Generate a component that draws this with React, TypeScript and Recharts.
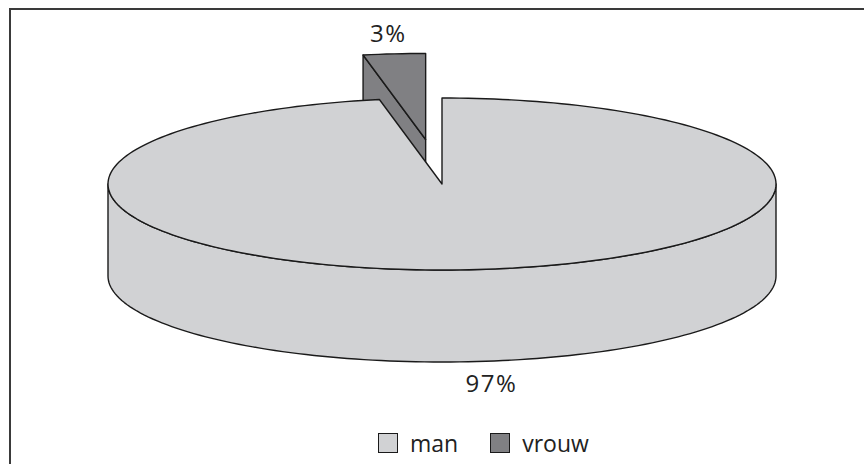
import { PieChart, Pie, Cell, Legend } from 'recharts';

const LABELS = ['man', 'vrouw'];
const SHARES = [97, 3];
const COLORS = ['#d1d2d4', '#808083'];
// slices pulled out of the pie, as a fraction of the radius
const EXPLODE: Record<string, number> = { vrouw: 0.52 };

const RX = 334;
const RY = 86;
const DEPTH = 92;
const STROKE = '#1a1a1a';
const FONT = '"Open Sans", "Noto Sans", sans-serif';

// painted back to front: the small slice goes first so the big one covers it
const pieData = LABELS.map((name, i) => ({ name, value: SHARES[i], color: COLORS[i] })).reverse();

const rad = (a: number) => (a * Math.PI) / 180;

function pt(cx: number, cy: number, a: number, dy = 0): [number, number] {
  return [cx + RX * Math.cos(rad(a)), cy - RY * Math.sin(rad(a)) + dy];
}

function arc(cx: number, cy: number, a0: number, a1: number, dy = 0) {
  const n = Math.max(2, Math.ceil(Math.abs(a1 - a0) / 1.5));
  const out: [number, number][] = [];
  for (let i = 0; i <= n; i++) out.push(pt(cx, cy, a0 + ((a1 - a0) * i) / n, dy));
  return out;
}

const toPath = (pts: [number, number][]) =>
  pts.map((p, i) => `${i ? 'L' : 'M'}${p[0].toFixed(2)},${p[1].toFixed(2)}`).join('') + 'Z';

function offsetFor(name: string, mid: number): [number, number] {
  const k = EXPLODE[name] ?? 0;
  return [k * RX * Math.cos(rad(mid)), -k * RY * Math.sin(rad(mid))];
}

function Slice3D(props: any) {
  const { cx, cy, startAngle, endAngle, fill } = props;
  const name = props.payload?.name ?? props.name;
  const a0 = Math.min(startAngle, endAngle);
  const a1 = Math.max(startAngle, endAngle);
  const [ox, oy] = offsetFor(name, (a0 + a1) / 2);
  const x0 = cx + ox;
  const y0 = cy + oy;

  const walls: string[] = [];
  for (const base of [-360, 0, 360]) {
    const lo = Math.max(a0, 180 + base);
    const hi = Math.min(a1, 360 + base);
    if (hi > lo) walls.push(toPath([...arc(x0, y0, lo, hi), ...arc(x0, y0, hi, lo, DEPTH)]));
  }

  const cuts: string[] = [];
  const cutFace = (a: number) => {
    const p = pt(x0, y0, a);
    return toPath([[x0, y0], p, [p[0], p[1] + DEPTH], [x0, y0 + DEPTH]]);
  };
  if (Math.cos(rad(a0)) > 0.001) cuts.push(cutFace(a0));
  if (Math.cos(rad(a1)) < -0.001) cuts.push(cutFace(a1));

  const top = toPath([[x0, y0], ...arc(x0, y0, a0, a1)]);

  return (
    <g>
      {walls.map((d, i) => <path key={'w' + i} d={d} fill={fill} stroke={STROKE} strokeWidth={1.4} strokeLinejoin="round" />)}
      {cuts.map((d, i) => <path key={'c' + i} d={d} fill={fill} stroke={STROKE} strokeWidth={1.4} strokeLinejoin="round" />)}
      <path d={top} fill={fill} stroke={STROKE} strokeWidth={1.4} strokeLinejoin="round" />
    </g>
  );
}

function renderLabel(props: any) {
  const { cx, cy, midAngle, value } = props;
  const name = props.payload?.name ?? props.name;
  const [ox, oy] = offsetFor(name, midAngle);
  const back = Math.sin(rad(midAngle)) > 0;
  const [ax, ay] = pt(cx + ox, cy + oy, midAngle, back ? 0 : DEPTH);
  const x = ax + Math.sign(Math.cos(rad(midAngle))) * (back ? 6 : 18);
  const y = back ? ay - 21 : ay + 21;
  return (
    <text x={x} y={y} textAnchor="middle" dominantBaseline="central" fontSize={24} fontFamily={FONT} fill="#222" letterSpacing={1.5}>
      {`${value}%`}
    </text>
  );
}

function LegendBox() {
  return (
    <div style={{ display: 'flex', alignItems: 'center', fontFamily: FONT, fontSize: 23, color: '#222' }}>
      {LABELS.map((name, i) => (
        <div key={name} style={{ display: 'flex', alignItems: 'center', marginRight: 32 }}>
          <span style={{ width: 18, height: 18, background: COLORS[i], border: `1.5px solid ${STROKE}`, marginRight: 12, display: 'inline-block' }} />
          <span style={{ lineHeight: '24px' }}>{name}</span>
        </div>
      ))}
    </div>
  );
}

export default function App() {
  return (
    <div style={{ position: 'absolute', left: 0, top: 0, width: 864, height: 464, background: '#fff', overflow: 'hidden' }}>
      <div style={{ position: 'absolute', left: 9, top: 8, width: 855, height: 456, borderLeft: '2px solid #3a3a3a', borderTop: '2px solid #3a3a3a' }} />
      <PieChart width={864} height={464} margin={{ top: 0, right: 0, bottom: 0, left: 0 }} style={{ position: 'absolute', left: 0, top: 0 }}>
        <Pie
          data={pieData}
          dataKey="value"
          nameKey="name"
          cx={442}
          cy={184}
          outerRadius={RX}
          startAngle={90}
          endAngle={450}
          stroke={STROKE}
          label={renderLabel}
          labelLine={false}
          shape={Slice3D}
          inactiveShape={Slice3D}
          activeShape={Slice3D}
          isAnimationActive={false}
        >
          {pieData.map(d => <Cell key={d.name} fill={d.color} />)}
        </Pie>
        <Legend content={() => <LegendBox />} wrapperStyle={{ left: 378, top: 431, bottom: 'auto', width: 340 }} />
      </PieChart>
    </div>
  );
}
